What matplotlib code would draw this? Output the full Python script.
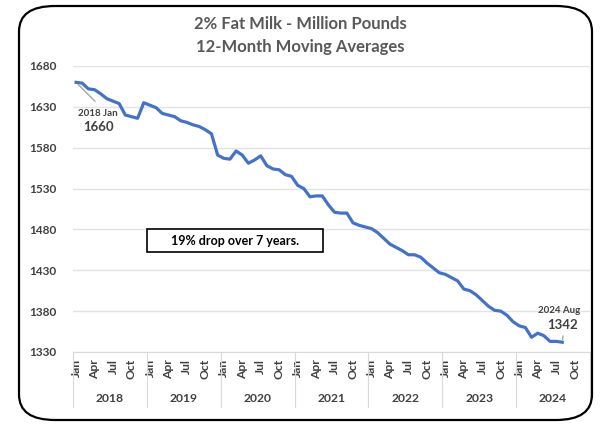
import matplotlib.pyplot as plt
from matplotlib.patches import FancyBboxPatch, Rectangle
import matplotlib.transforms as mtransforms

plt.rcParams['font.family'] = ['Lato', 'DejaVu Sans']

# 12-month moving average, Jan 2018 .. Aug 2024 (million pounds)
milk = [1660, 1659, 1652, 1651, 1646, 1640, 1637, 1634, 1620, 1618, 1616, 1635,
        1632, 1629, 1622, 1620, 1618, 1613, 1611, 1608, 1606, 1602, 1597, 1571,
        1567, 1566, 1576, 1571, 1561, 1565, 1570, 1558, 1554, 1553, 1547, 1545,
        1534, 1530, 1520, 1521, 1521, 1510, 1501, 1500, 1500, 1488, 1485, 1483,
        1481, 1476, 1469, 1462, 1458, 1454, 1449, 1449, 1446, 1439, 1433, 1427,
        1425, 1421, 1417, 1407, 1405, 1400, 1393, 1386, 1381, 1380, 1375, 1367,
        1362, 1360, 1348, 1353, 1350, 1343, 1343, 1342]
years = ['2018', '2019', '2020', '2021', '2022', '2023', '2024']
month_labels = ['Jan', 'Apr', 'Jul', 'Oct']
yticks = [1330, 1380, 1430, 1480, 1530, 1580, 1630, 1680]

grey = '#595959'
dark = '#404040'

fig = plt.figure(figsize=(6, 4.25), dpi=100)

# rounded outer frame
frame = FancyBboxPatch((19 / 600, 5 / 425), 573 / 600, 414 / 425,
                       boxstyle='round,pad=0,rounding_size=0.06',
                       transform=fig.transFigure, fill=False,
                       edgecolor='black', linewidth=1.6)
fig.patches.append(frame)

fig.text(0.5, 1 - 24 / 425, '2% Fat Milk - Million Pounds', ha='center', va='center',
         fontsize=12, fontweight='bold', color=grey)
fig.text(0.5, 1 - 47 / 425, '12-Month Moving Averages', ha='center', va='center',
         fontsize=12, fontweight='bold', color=grey)

ax = fig.add_axes([73 / 600, 1 - 352 / 425, 517 / 600, 286 / 425])

n_cat = 12 * len(years)
x = list(range(len(milk)))
ax.plot(x, milk, color='#4472C4', linewidth=2.3, solid_joinstyle='round')

ax.set_xlim(-0.5, n_cat - 0.5)
ax.set_ylim(yticks[0], yticks[-1])
ax.set_yticks(yticks)
ax.set_yticklabels([str(v) for v in yticks], fontsize=8.5, fontweight='bold', color=dark)
ax.tick_params(axis='y', length=0, pad=12)
ax.grid(axis='y', color='#e3e3e3', linewidth=1)
ax.set_axisbelow(True)
for s in ['top', 'right', 'left']:
    ax.spines[s].set_visible(False)
ax.spines['bottom'].set_color('#d9d9d9')

# month ticks (Jan/Apr/Jul/Oct of each year)
mpos = [12 * i + 3 * j for i in range(len(years)) for j in range(4)]
ax.set_xticks(mpos)
ax.set_xticklabels(month_labels * len(years), rotation=90, fontsize=8.7,
                   fontweight='bold', color=dark, va='top')
ax.tick_params(axis='x', length=0, pad=5)

# year group labels and separators
trans = mtransforms.blended_transform_factory(ax.transData, ax.transAxes)
for i, yr in enumerate(years):
    ax.text(12 * i + 5.5, -46 / 286, yr, transform=trans, ha='center', va='center',
            fontsize=8.7, fontweight='bold', color=dark)
for i in range(len(years) + 1):
    ax.plot([12 * i - 0.5, 12 * i - 0.5], [0, -55 / 286], transform=trans,
            color='#d9d9d9', linewidth=0.8, clip_on=False)

# start / end labels
ax.annotate('', xy=(0, milk[0]), xytext=(21, -21), textcoords='offset pixels',
            arrowprops=dict(arrowstyle='-', color='#a6a6a6', linewidth=1))
ax.annotate('2018 Jan', xy=(0, milk[0]), xytext=(22, -31), textcoords='offset pixels',
            ha='center', va='center', fontsize=7, fontweight='bold', color=dark)
ax.annotate(str(milk[0]), xy=(0, milk[0]), xytext=(22, -45), textcoords='offset pixels',
            ha='center', va='center', fontsize=9.5, fontweight='bold', color=dark)

last = len(milk) - 1
ax.annotate('', xy=(last, milk[last]), xytext=(1, 9), textcoords='offset pixels',
            arrowprops=dict(arrowstyle='-', color='#a6a6a6', linewidth=1))
ax.annotate('2024 Aug', xy=(last, milk[last]), xytext=(-3, 32), textcoords='offset pixels',
            ha='center', va='center', fontsize=7, fontweight='bold', color=dark)
ax.annotate(str(milk[last]), xy=(last, milk[last]), xytext=(0, 17), textcoords='offset pixels',
            ha='center', va='center', fontsize=9.5, fontweight='bold', color=dark)

# text box
ax.add_patch(Rectangle(((147 - 73) / 517, (352 - 252) / 286), 176 / 517, 23 / 286,
                       transform=ax.transAxes, fill=True, facecolor='white',
                       edgecolor='black', linewidth=1.2, zorder=3))
ax.text((235 - 73) / 517, (352 - 241) / 286, '19% drop over 7 years.', transform=ax.transAxes,
        ha='center', va='center', fontsize=9, fontweight='bold', color='black', zorder=4)

fig.savefig('out.png', dpi=100)
